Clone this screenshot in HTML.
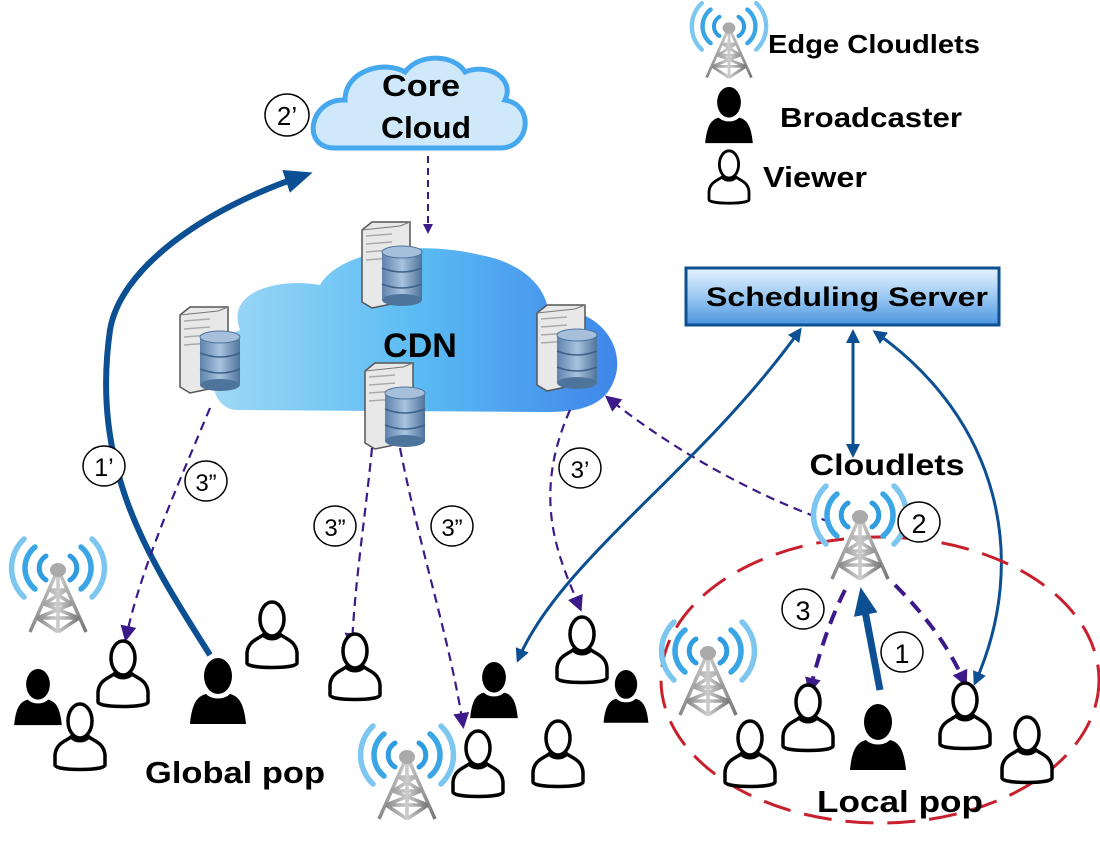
<!DOCTYPE html>
<html><head><meta charset="utf-8"><style>
html,body{margin:0;padding:0;background:#fff}
svg{display:block}
text{font-family:"Liberation Sans",sans-serif}
.b{font-weight:bold}
</style></head><body>
<svg width="1100" height="846" viewBox="0 0 1100 846" xmlns="http://www.w3.org/2000/svg">
<defs>
<linearGradient id="cdn" x1="0" x2="1"><stop offset="0" stop-color="#9fd8f6"/><stop offset="0.5" stop-color="#5bbcf3"/><stop offset="1" stop-color="#3f86ea"/></linearGradient>
<linearGradient id="ss" x1="0" y1="0" x2="0" y2="1"><stop offset="0" stop-color="#e6f3ff"/><stop offset="0.5" stop-color="#9cc9f2"/><stop offset="1" stop-color="#4b95e0"/></linearGradient>
<linearGradient id="db" x1="0" x2="1"><stop offset="0" stop-color="#5d83ad"/><stop offset="0.5" stop-color="#a9c3de"/><stop offset="1" stop-color="#4f749c"/></linearGradient>
<linearGradient id="tw" x1="0" x2="1"><stop offset="0" stop-color="#888"/><stop offset="0.5" stop-color="#ccc"/><stop offset="1" stop-color="#777"/></linearGradient>
<g id="tower">
 <g fill="none" stroke-linecap="round">
  <path d="M-12,16 A14,14 0 0 0 -12,40" stroke="#2f9be0" stroke-width="5"/>
  <path d="M12,16 A14,14 0 0 1 12,40" stroke="#2f9be0" stroke-width="5"/>
  <path d="M-23,7 A27,27 0 0 0 -23,49" stroke="#3ba6e6" stroke-width="5.5"/>
  <path d="M23,7 A27,27 0 0 1 23,49" stroke="#3ba6e6" stroke-width="5.5"/>
  <path d="M-34,-1 A40,40 0 0 0 -34,57" stroke="#7cc6f0" stroke-width="5.5"/>
  <path d="M34,-1 A40,40 0 0 1 34,57" stroke="#7cc6f0" stroke-width="5.5"/>
 </g>
 <g stroke="url(#tw)" stroke-width="3.5" fill="none">
  <path d="M-3,36 L-28,92 M3,36 L28,92 M0,36 L0,92"/>
  <path d="M-8,50 L8,50 M-14,64 L14,64 M-21,78 L21,78 M-8,50 L14,64 M8,50 L-14,64 M-14,64 L21,78 M14,64 L-21,78 M-21,78 L0,92 M21,78 L0,92"/>
 </g>
 <ellipse cx="0" cy="30" rx="8" ry="7" fill="#aaa"/>
</g>
<g id="viewer" fill="#fff" stroke="#000" stroke-width="3.5">
 <ellipse cx="0" cy="18" rx="12" ry="17"/>
 <path d="M-9,34 C-14,38 -24,40 -25,52 L-25,62 C-25,68 25,68 25,62 L25,52 C24,40 14,38 9,34 C4,39 -4,39 -9,34 Z"/>
</g>
<g id="bcast" fill="#000">
 <ellipse cx="0" cy="18" rx="14" ry="18"/>
 <path d="M-12,36 C-20,38 -26,44 -28,66 L28,66 C26,44 20,38 12,36 C6,42 -6,42 -12,36 Z"/>
</g>
<g id="server">
 <path d="M0,8 L10,0 L48,0 L48,78 L10,86 L0,80 Z" fill="#e8e8e8" stroke="#555" stroke-width="1.5"/>
 <path d="M0,8 L38,4 L48,0" fill="none" stroke="#777" stroke-width="1"/>
 <path d="M4,14 L30,12 M4,22 L30,20 M4,30 L30,28 M4,38 L30,36" stroke="#aaa" stroke-width="1.5"/>
 <rect x="20" y="30" width="40" height="48" fill="url(#db)"/>
 <ellipse cx="40" cy="30" rx="20" ry="6" fill="#a6c0dc" stroke="#4f749c"/>
 <path d="M20,46 Q40,54 60,46 M20,62 Q40,70 60,62" fill="none" stroke="#3e6188" stroke-width="1.5"/>
 <ellipse cx="40" cy="78" rx="20" ry="6" fill="#4f749c"/>
</g>
<marker id="pa" markerWidth="10" markerHeight="10" refX="8" refY="5" orient="auto" markerUnits="userSpaceOnUse" viewBox="0 0 10 10"><path d="M0,0 L10,5 L0,10 Z" fill="#3d1a8a"/></marker>
<marker id="pab" markerWidth="16" markerHeight="16" refX="12" refY="8" orient="auto" markerUnits="userSpaceOnUse" viewBox="0 0 16 16"><path d="M0,0 L16,8 L0,16 Z" fill="#3d1a8a"/></marker>
<marker id="ba" markerWidth="14" markerHeight="14" refX="11" refY="7" orient="auto" markerUnits="userSpaceOnUse" viewBox="0 0 14 14"><path d="M0,0 L14,7 L0,14 Z" fill="#0c4f92"/></marker>
<marker id="bas" markerWidth="14" markerHeight="14" refX="3" refY="7" orient="auto" markerUnits="userSpaceOnUse" viewBox="0 0 14 14"><path d="M14,0 L0,7 L14,14 Z" fill="#0c4f92"/></marker>
<marker id="bab" markerWidth="28" markerHeight="28" refX="20" refY="14" orient="auto" markerUnits="userSpaceOnUse" viewBox="0 0 28 28"><path d="M0,2 L28,14 L0,26 Z" fill="#0c4f92"/></marker>
</defs>

<!-- Core cloud -->
<path d="M335,148 C300,148 310,98 345,100 C345,70 385,60 405,72 C420,52 455,55 465,72 C490,62 515,80 505,100 C535,105 530,148 500,148 Z" fill="#cfe9fb" stroke="#46a8ee" stroke-width="5"/>
<text x="421" y="96" font-size="31" class="b" text-anchor="middle" textLength="78" lengthAdjust="spacingAndGlyphs">Core</text>
<text x="426" y="138" font-size="31" class="b" text-anchor="middle" textLength="90" lengthAdjust="spacingAndGlyphs">Cloud</text>
<ellipse cx="287" cy="115" rx="22" ry="21" fill="#fff" stroke="#000" stroke-width="1.5"/>
<text x="287" y="125" font-size="26" text-anchor="middle">2’</text>

<!-- CDN cloud -->
<path d="M235,410 C200,405 210,340 240,330 C225,290 280,278 320,285 C340,250 420,240 480,255 C520,262 545,285 548,310 C600,305 630,350 612,385 C600,410 570,412 545,412 Z" fill="url(#cdn)"/>
<text x="420" y="357" font-size="34" class="b" text-anchor="middle">CDN</text>
<use href="#server" x="362" y="222"/>
<use href="#server" x="180" y="307"/>
<use href="#server" x="537" y="305"/>
<use href="#server" x="365" y="363"/>

<line x1="428" y1="156" x2="428" y2="232" stroke="#3d1a8a" stroke-width="2" stroke-dasharray="7,5" marker-end="url(#pa)"/>

<!-- 1' arrow -->
<path d="M210,655 C150,560 90,470 110,330 C120,270 200,210 305,175" fill="none" stroke="#0c4f92" stroke-width="6" marker-end="url(#bab)"/>
<ellipse cx="104" cy="466" rx="21" ry="20" fill="#fff" stroke="#000" stroke-width="1.5"/>
<text x="104" y="476" font-size="25" text-anchor="middle">1’</text>

<path d="M210,408 C180,480 140,570 126,638" fill="none" stroke="#3d1a8a" stroke-width="2.2" stroke-dasharray="9,6" marker-end="url(#pab)"/>
<ellipse cx="206" cy="481" rx="21" ry="20" fill="#fff" stroke="#000" stroke-width="1.5"/>
<text x="206" y="491" font-size="24" text-anchor="middle">3”</text>
<path d="M372,448 C365,520 355,580 352,645" fill="none" stroke="#3d1a8a" stroke-width="2.2" stroke-dasharray="9,6" marker-end="url(#pab)"/>
<ellipse cx="335" cy="526" rx="21" ry="20" fill="#fff" stroke="#000" stroke-width="1.5"/>
<text x="335" y="536" font-size="24" text-anchor="middle">3”</text>
<path d="M400,448 C420,550 450,640 463,725" fill="none" stroke="#3d1a8a" stroke-width="2.2" stroke-dasharray="9,6" marker-end="url(#pab)"/>
<ellipse cx="452" cy="526" rx="21" ry="20" fill="#fff" stroke="#000" stroke-width="1.5"/>
<text x="452" y="536" font-size="24" text-anchor="middle">3”</text>
<path d="M570,410 C530,500 560,560 580,608" fill="none" stroke="#3d1a8a" stroke-width="2.2" stroke-dasharray="9,6" marker-end="url(#pab)"/>
<ellipse cx="580" cy="468" rx="21" ry="20" fill="#fff" stroke="#000" stroke-width="1.5"/>
<text x="580" y="478" font-size="24" text-anchor="middle">3’</text>
<path d="M830,522 C740,490 660,440 608,398" fill="none" stroke="#3d1a8a" stroke-width="2.2" stroke-dasharray="9,6" marker-end="url(#pab)"/>

<!-- Scheduling server -->
<rect x="686" y="268" width="313" height="57" fill="url(#ss)" stroke="#0c4f92" stroke-width="3"/>
<text x="847" y="306" font-size="27" class="b" text-anchor="middle" textLength="282" lengthAdjust="spacingAndGlyphs">Scheduling Server</text>

<path d="M518,660 C560,560 700,470 800,330" fill="none" stroke="#0c4f92" stroke-width="3" marker-end="url(#ba)" marker-start="url(#bas)"/>
<line x1="853" y1="332" x2="853" y2="455" stroke="#0c4f92" stroke-width="3" marker-end="url(#ba)" marker-start="url(#bas)"/>
<path d="M875,332 C1000,420 1030,560 975,683" fill="none" stroke="#0c4f92" stroke-width="3" marker-end="url(#ba)" marker-start="url(#bas)"/>
<text x="887" y="475" font-size="30" class="b" text-anchor="middle" textLength="155" lengthAdjust="spacingAndGlyphs">Cloudlets</text>

<ellipse cx="880" cy="680" rx="219" ry="143" fill="none" stroke="#c8202c" stroke-width="3" stroke-dasharray="28,14"/>

<use href="#tower" transform="translate(729,4) scale(0.8)"/>
<use href="#tower" x="58" y="540"/>
<use href="#tower" x="708" y="623"/>
<use href="#tower" x="407" y="727"/>
<use href="#tower" x="860" y="487"/>
<ellipse cx="919" cy="522" rx="21" ry="20" fill="#fff" stroke="#000" stroke-width="1.5"/>
<text x="919" y="533" font-size="27" text-anchor="middle">2</text>

<path d="M845,590 C830,620 820,650 810,690" fill="none" stroke="#3d1a8a" stroke-width="4" stroke-dasharray="14,9" marker-end="url(#pab)"/>
<path d="M895,585 C930,620 950,650 965,683" fill="none" stroke="#3d1a8a" stroke-width="4" stroke-dasharray="14,9" marker-end="url(#pab)"/>
<line x1="880" y1="690" x2="862" y2="595" stroke="#0c4f92" stroke-width="7" marker-end="url(#bab)"/>
<ellipse cx="803" cy="609" rx="21" ry="20" fill="#fff" stroke="#000" stroke-width="1.5"/>
<text x="803" y="620" font-size="27" text-anchor="middle">3</text>
<ellipse cx="902" cy="652" rx="21" ry="20" fill="#fff" stroke="#000" stroke-width="1.5"/>
<text x="902" y="663" font-size="27" text-anchor="middle">1</text>

<use href="#bcast" transform="translate(729,87) scale(0.85)"/>
<use href="#viewer" transform="translate(729,150) scale(0.8)"/>
<use href="#viewer" x="123" y="640"/>
<use href="#viewer" x="80" y="703"/>
<use href="#viewer" x="272" y="601"/>
<use href="#viewer" x="355" y="633"/>
<use href="#viewer" x="582" y="616"/>
<use href="#viewer" x="478" y="730"/>
<use href="#viewer" x="558" y="720"/>
<use href="#viewer" x="808" y="684"/>
<use href="#viewer" x="750" y="720"/>
<use href="#viewer" x="965" y="682"/>
<use href="#viewer" x="1027" y="716"/>
<use href="#bcast" transform="translate(38,669) scale(0.85)"/>
<use href="#bcast" x="218" y="658"/>
<use href="#bcast" transform="translate(494,662) scale(0.85)"/>
<use href="#bcast" transform="translate(626,670) scale(0.8)"/>
<use href="#bcast" x="878" y="704"/>

<text x="768" y="53" font-size="26" class="b" textLength="212" lengthAdjust="spacingAndGlyphs">Edge Cloudlets</text>
<text x="780" y="127" font-size="28" class="b" textLength="182" lengthAdjust="spacingAndGlyphs">Broadcaster</text>
<text x="763" y="187" font-size="29" class="b" textLength="104" lengthAdjust="spacingAndGlyphs">Viewer</text>

<text x="145" y="783" font-size="31" class="b" textLength="180" lengthAdjust="spacingAndGlyphs">Global pop</text>
<text x="817" y="812" font-size="31" class="b" textLength="166" lengthAdjust="spacingAndGlyphs">Local pop</text>
</svg>
</body></html>
